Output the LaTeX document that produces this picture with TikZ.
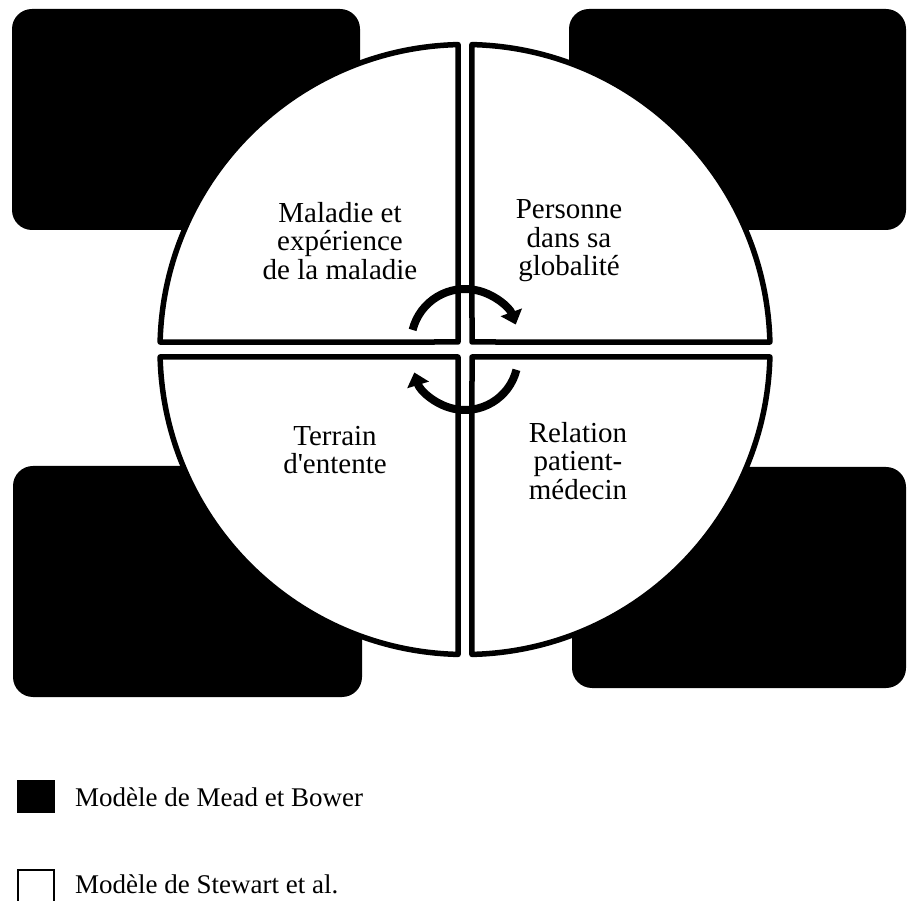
\documentclass[tikz,border=0pt]{standalone}
\usepackage{fontspec}
\setmainfont{Liberation Serif}
\usetikzlibrary{arrows.meta}
\begin{document}
\begin{tikzpicture}[x=1pt,y=1pt,
  blackbox/.style={fill=black, rounded corners=20pt},
  quad/.style={draw=black, fill=white, line width=5.5pt, line join=round},
  lbl/.style={align=center, font=\fontsize{29}{28.5}\selectfont, inner sep=0pt},
  cyc/.style={line width=8pt, -{Triangle[length=13pt,width=22pt]}},
  legtext/.style={anchor=west, font=\fontsize{27}{28}\selectfont, inner sep=0pt},
  legbox/.style={draw=black, line width=2.5pt}]
\useasboundingbox (0,0) rectangle (907,900);
% black boxes (Mead and Bower)
\fill[blackbox] (12,670) rectangle (360,891);
\fill[blackbox] (569,670) rectangle (906,891);
\fill[blackbox] (13,203) rectangle (362,434);
\fill[blackbox] (572,212) rectangle (906,433);
% quadrants (Stewart et al.)
\draw[quad] (458,558) -- ([shift={(91.3:305)}]465,550.5) arc[start angle=91.3, end angle=178.6, radius=305] -- cycle;
\draw[quad] (472,558) -- ([shift={(1.4:305)}]465,550.5) arc[start angle=1.4, end angle=88.7, radius=305] -- cycle;
\draw[quad] (458,543) -- ([shift={(181.4:305)}]465,550.5) arc[start angle=181.4, end angle=268.7, radius=305] -- cycle;
\draw[quad] (472,543) -- ([shift={(271.3:305)}]465,550.5) arc[start angle=271.3, end angle=358.6, radius=305] -- cycle;
% labels
\node[lbl] (maladie) at (340,659) {Maladie et\\expérience\\de la maladie};
\node[lbl] (personne) at (569,659) {Personne\\dans sa\\globalité};
\node[lbl] (terrain) at (335,450) {Terrain\\d\textquotesingle entente};
\node[lbl] (relation) at (578,439) {Relation\\patient-\\médecin};
% circular arrows
\draw[cyc] ([shift={(166:54)}]465,557) arc[start angle=166, end angle=20, radius=54];
\draw[cyc] ([shift={(-14:53)}]465,543) arc[start angle=-14, end angle=-163, radius=53];
% legend
\fill[black] (17,87) rectangle (55,120);
\node[legtext] (mead) at (75,103) {Modèle de Mead et Bower};
\draw[legbox] (18,-5) rectangle (54,30);
\node[legtext] (stewart) at (75,16) {Modèle de Stewart et al.};
\end{tikzpicture}
\end{document}
